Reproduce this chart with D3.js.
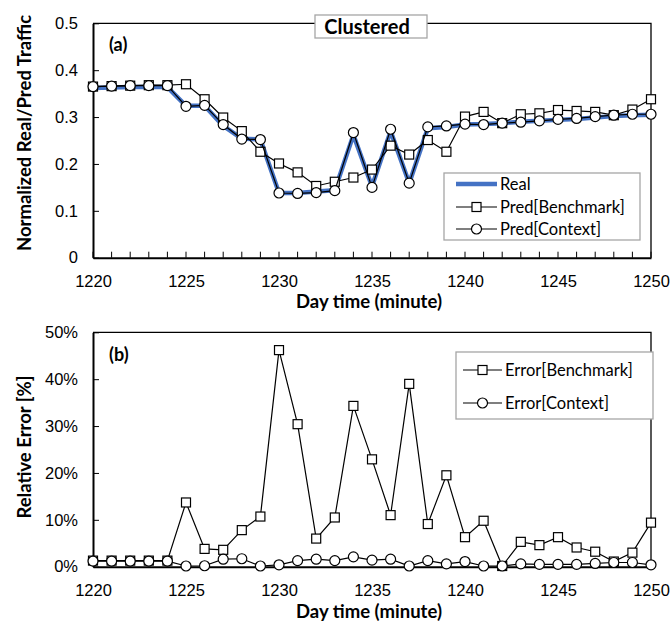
<!DOCTYPE html>
<html>
<head>
<meta charset="utf-8">
<script src="https://cdn.jsdelivr.net/npm/d3@7/dist/d3.min.js"></script>
<style>
  body { margin: 0; background: #fff; }
  svg { font-family: Lato, "Open Sans", sans-serif; }
</style>
</head>
<body>
<svg width="671" height="622"></svg>
<script>
// minutes on the x axis
var minutes = d3.range(1220, 1251);

// (a) normalized traffic
var real = [0.362,0.363,0.364,0.364,0.364,0.324,0.324,0.281,0.254,0.252,
            0.138,0.138,0.141,0.144,0.262,0.152,0.270,0.159,0.276,0.279,
            0.284,0.285,0.287,0.290,0.292,0.294,0.296,0.299,0.302,0.304,0.305];
var predBench = [0.365,0.366,0.367,0.368,0.368,0.370,0.338,0.299,0.270,0.226,
                 0.201,0.182,0.153,0.162,0.171,0.188,0.239,0.220,0.251,0.226,
                 0.301,0.311,0.287,0.306,0.308,0.315,0.313,0.311,0.304,0.316,0.338];
var predCtx = [0.365,0.366,0.367,0.367,0.367,0.323,0.325,0.284,0.253,0.252,
               0.138,0.137,0.139,0.143,0.267,0.150,0.274,0.159,0.279,0.281,
               0.285,0.284,0.287,0.289,0.292,0.295,0.297,0.301,0.304,0.306,0.306];

// (b) relative error, in percent
var errBench = [1.3,1.3,1.3,1.3,1.3,13.7,3.8,3.6,7.8,10.7,
                46.2,30.4,6.0,10.5,34.3,22.9,11.0,39.0,9.1,19.5,
                6.3,9.8,0.15,5.3,4.6,6.3,4.1,3.2,1.1,3.0,9.4];
var errCtx = [1.2,1.2,1.2,1.2,1.2,0.15,0.2,1.6,1.7,0.15,
              0.4,1.3,1.6,1.3,2.1,1.4,1.6,0.15,1.3,0.6,
              1.1,0.15,0.15,0.6,0.5,0.5,0.5,0.7,0.9,0.9,0.4];

var xTicks = [1220,1225,1230,1235,1240,1245,1250];
var yTicksA = [0,0.1,0.2,0.3,0.4,0.5];
var yTicksB = [0,10,20,30,40,50];

var blue = "#4472C4";
var svg = d3.select("svg");

function panel(opt) {
  var x = d3.scaleLinear().domain([1220,1250]).range([93, 651]);
  var y = d3.scaleLinear().domain(opt.ydomain).range([opt.bottom, opt.top]);
  var g = svg.append("g");

  // frame: top and right
  g.append("path")
    .attr("d","M"+x(1220)+","+y.range()[1]+"H"+x(1250)+"V"+y.range()[0])
    .attr("fill","none").attr("stroke","#000").attr("stroke-width",1.3);

  // x axis
  var xa = g.append("g").attr("transform","translate(0,"+opt.bottom+")")
    .call(d3.axisBottom(x).tickValues(xTicks).tickSize(0).tickPadding(18).tickFormat(d3.format("d")));
  xa.select(".domain").attr("stroke-width",2);
  xa.selectAll("text").attr("font-size",16.5).attr("fill","#000");
  if (opt.minorX) {
    g.append("g").selectAll("line").data(minutes).enter().append("line")
      .attr("x1",function(d){return x(d);}).attr("x2",function(d){return x(d);})
      .attr("y1",opt.bottom).attr("y2",opt.bottom-6)
      .attr("stroke","#000").attr("stroke-width",1);
  }

  // y axis
  var ya = g.append("g").attr("transform","translate("+x(1220)+",0)")
    .call(d3.axisLeft(y).tickValues(opt.yticks).tickSizeInner(-6).tickSizeOuter(0).tickPadding(15).tickFormat(opt.yfmt));
  ya.select(".domain").attr("stroke-width",2);
  ya.selectAll("text").attr("font-size",16.5).attr("fill","#000");
  ya.selectAll(".tick line").attr("stroke-width",1);

  // axis titles
  g.append("text").attr("x",369).attr("y",opt.xtitleY)
    .attr("text-anchor","middle").attr("font-size",18.5).attr("font-weight","bold")
    .text("Day time (minute)");
  g.append("text").attr("transform","translate("+31+","+opt.ytitleC+") rotate(-90)")
    .attr("text-anchor","middle").attr("font-size",18.5).attr("font-weight","bold")
    .text(opt.ytitle);

  g.append("text").attr("x",109).attr("y",opt.labelY).attr("font-size",18)
    .attr("font-weight","bold").text(opt.label);

  var line = d3.line().x(function(d,i){return x(minutes[i]);}).y(function(d){return y(d);});

  opt.series.forEach(function(s){
    if (s.kind === "real") {
      g.append("path").datum(s.values).attr("d",line)
        .attr("fill","none").attr("stroke",blue).attr("stroke-width",4.5)
        .attr("stroke-linejoin","round");
      return;
    }
    g.append("path").datum(s.values).attr("d",line)
      .attr("fill","none").attr("stroke","#000").attr("stroke-width",1.2);
    var pts = g.append("g").selectAll("x").data(s.values).enter();
    if (s.kind === "square") {
      pts.append("rect")
        .attr("x",function(d,i){return x(minutes[i])-4.5;})
        .attr("y",function(d){return y(d)-4.5;})
        .attr("width",9).attr("height",9)
        .attr("fill","#fff").attr("stroke","#000").attr("stroke-width",1.2);
    } else {
      pts.append("circle")
        .attr("cx",function(d,i){return x(minutes[i]);})
        .attr("cy",function(d){return y(d);})
        .attr("r",5)
        .attr("fill","#fff").attr("stroke","#000").attr("stroke-width",1.2);
    }
  });

  // legend
  var L = opt.legend;
  var lg = g.append("g");
  lg.append("rect").attr("x",L.x).attr("y",L.y).attr("width",L.w).attr("height",L.h)
    .attr("fill","#fff").attr("stroke","#a6a6a6").attr("stroke-width",1.3);
  L.items.forEach(function(it, i){
    var cy = L.rows[i];
    if (it.kind === "real") {
      lg.append("line").attr("x1",L.lx0).attr("x2",L.lx1).attr("y1",cy).attr("y2",cy)
        .attr("stroke",blue).attr("stroke-width",4.5);
    } else {
      lg.append("line").attr("x1",L.lx0).attr("x2",L.lx1).attr("y1",cy).attr("y2",cy)
        .attr("stroke","#000").attr("stroke-width",1.2);
      var mx = (L.lx0+L.lx1)/2;
      if (it.kind === "square") {
        lg.append("rect").attr("x",mx-4.5).attr("y",cy-4.5).attr("width",9).attr("height",9)
          .attr("fill","#fff").attr("stroke","#000").attr("stroke-width",1.2);
      } else {
        lg.append("circle").attr("cx",mx).attr("cy",cy).attr("r",5)
          .attr("fill","#fff").attr("stroke","#000").attr("stroke-width",1.2);
      }
    }
    lg.append("text").attr("x",L.lx1+3).attr("y",cy).attr("dy","0.35em")
      .attr("font-size",16.5).text(it.name);
  });
  return g;
}

panel({
  ydomain:[0,0.5], top:23.3, bottom:257.7, yticks:yTicksA,
  yfmt:function(d){return d===0?"0":d3.format(".1f")(d);},
  minorX:true, xtitleY:308, ytitle:"Normalized Real/Pred Traffic", ytitleC:133,
  label:"(a)", labelY:51,
  series:[{kind:"real",values:real},{kind:"square",values:predBench},{kind:"circle",values:predCtx}],
  legend:{x:444,y:173,w:196,h:67,lx0:456,lx1:497,rows:[184,207,229],
    items:[{kind:"real",name:"Real"},{kind:"square",name:"Pred[Benchmark]"},{kind:"circle",name:"Pred[Context]"}]}
});

panel({
  ydomain:[0,50], top:332.3, bottom:566.7, yticks:yTicksB,
  yfmt:function(d){return d+"%";},
  minorX:false, xtitleY:618, ytitle:"Relative Error [%]", ytitleC:447,
  label:"(b)", labelY:361,
  series:[{kind:"square",values:errBench},{kind:"circle",values:errCtx}],
  legend:{x:456,y:352,w:197,h:67,lx0:463,lx1:502,rows:[370,403],
    items:[{kind:"square",name:"Error[Benchmark]"},{kind:"circle",name:"Error[Context]"}]}
});

// "Clustered" title box over the top frame
svg.append("rect").attr("x",315).attr("y",15).attr("width",112).attr("height",23)
  .attr("fill","#fff").attr("stroke","#a6a6a6").attr("stroke-width",1.3);
svg.append("text").attr("x",367).attr("y",27).attr("dy","0.35em")
  .attr("text-anchor","middle").attr("font-size",20).attr("font-weight","bold")
  .text("Clustered");
</script>
</body>
</html>
